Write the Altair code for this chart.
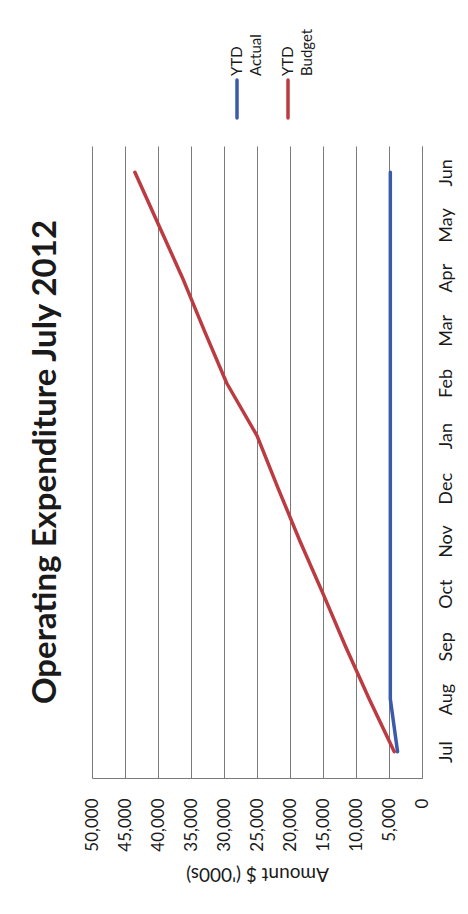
import altair as alt
import pandas as pd

# ---- data ----
months = ["Jul", "Aug", "Sep", "Oct", "Nov", "Dec", "Jan", "Feb", "Mar", "Apr", "May", "Jun"]
ytd_actual = [3700, 4800, 4800, 4800, 4800, 4800, 4800, 4800, 4800, 4800, 4800, 4800]
ytd_budget = [4200, 8000, 11600, 15000, 18500, 21800, 25000, 29600, 33000, 36300, 39900, 43500]
series_names = ["YTD Actual", "YTD Budget"]
legend_line1 = ["YTD", "YTD"]
legend_line2 = ["Actual", "Budget"]
axis_values = [0, 5000, 10000, 15000, 20000, 25000, 30000, 35000, 40000, 45000, 50000]

# ---- styling ----
FONT = "Lato"
TEXT = "#1a1a1a"
GRID = "#7a7a7a"
series_colors = ["#3a5bab", "#bb3b40"]

rows = []
for i, m in enumerate(months):
    rows.append({"month": m, "idx": i, "series": series_names[0], "value": ytd_actual[i]})
    rows.append({"month": m, "idx": i, "series": series_names[1], "value": ytd_budget[i]})
df = pd.DataFrame(rows)

color = alt.Color("series:N", scale=alt.Scale(domain=series_names, range=series_colors), legend=None)

main = alt.Chart(df).mark_line(strokeWidth=3.5, strokeCap="round", strokeJoin="round").encode(
    x=alt.X(
        "value:Q",
        scale=alt.Scale(domain=[0, 50000], reverse=True, nice=False),
        axis=alt.Axis(
            values=axis_values, format=",.0f", labelAngle=270, labelAlign="right",
            labelBaseline="middle", labelPadding=20, labelFontSize=17, labelFont=FONT,
            labelColor=TEXT, grid=True, gridColor=GRID, gridWidth=1, gridOpacity=1,
            domainColor=GRID, domainWidth=1, ticks=False,
            title="Amount $ ('000s)", titleAngle=180, titleBaseline="bottom",
            titlePadding=12, titleFontSize=19, titleFontWeight="normal",
            titleFont=FONT, titleColor=TEXT,
        ),
    ),
    y=alt.Y(
        "month:O", sort=months, scale=alt.Scale(reverse=True),
        axis=alt.Axis(
            orient="right", labelAngle=270, labelAlign="center", labelBaseline="top",
            labelPadding=15, labelFontSize=18, labelFont=FONT, labelColor=TEXT,
            ticks=False, domainColor=GRID, domainWidth=1, grid=False, title=None,
        ),
    ),
    color=color,
    order=alt.Order("idx:Q"),
).properties(
    width=330, height=632,
    title=alt.TitleParams(
        "Operating Expenditure July 2012", orient="left", anchor="middle",
        fontSize=33, font=FONT, fontWeight="bold", color=TEXT, offset=20,
    ),
)

leg_df = pd.DataFrame({"series": series_names, "l1": legend_line1, "l2": legend_line2})
legx = alt.X("series:N", scale=alt.Scale(type="point", domain=series_names, range=[145, 196], padding=0), axis=None)
leg_base = alt.Chart(leg_df)
leg_rule = leg_base.mark_rule(strokeWidth=3.5, strokeCap="round").encode(
    x=legx, y=alt.value(52), y2=alt.value(90), color=color
)
leg_t1 = leg_base.mark_text(angle=270, align="left", baseline="middle", fontSize=15, font=FONT, color=TEXT).encode(
    x=legx, y=alt.value(48), text="l1:N"
)
leg_t2 = leg_base.mark_text(angle=270, align="left", baseline="middle", fontSize=15, font=FONT, color=TEXT, dy=19).encode(
    x=legx, y=alt.value(48), text="l2:N"
)
legend = alt.layer(leg_rule, leg_t1, leg_t2).properties(width=330, height=100)

chart = alt.vconcat(legend, main, spacing=18, bounds="flush").configure_view(
    stroke=None
).properties(
    padding={"left": 29, "top": 28, "right": 5, "bottom": 5},
    background="white",
)

chart.save("out.html", embed_options={"renderer": "svg", "actions": False})
